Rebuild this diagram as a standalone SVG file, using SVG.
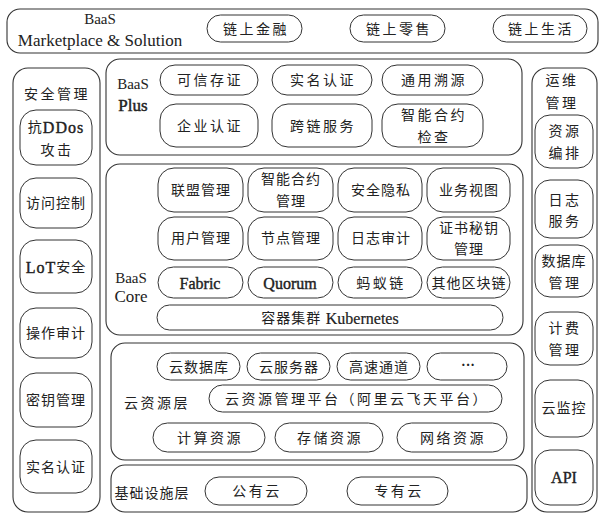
<svg xmlns="http://www.w3.org/2000/svg" width="602" height="515" viewBox="0 0 602 515">
<style>
.box{fill:#fff;stroke:#333;stroke-width:1.1}
.p{fill:#fff;stroke:#333;stroke-width:1}
text{font-family:"Liberation Serif","Noto Sans CJK SC",serif;fill:#222;text-anchor:middle;dominant-baseline:central}
.c{font-size:14px;letter-spacing:2.5px}
.c1{font-size:14px;letter-spacing:1px}
.s{font-size:15px}
.b{font-size:17px;stroke:#222;stroke-width:0.45}
.l{font-size:16px;stroke:#222;stroke-width:0.4}
.lt{font-size:16px;stroke:#222;stroke-width:0.4}
.m{font-size:17px}
</style>
<rect width="602" height="515" fill="#fff"/>

<g id="marketplace">
<rect class="box" x="7" y="9" width="591" height="44" rx="13"/>
<text class="s" x="100" y="19">BaaS</text>
<text class="m" x="100" y="40">Marketplace &amp; Solution</text>
<rect class="p" x="207" y="15" width="95" height="27" rx="13.5"/><text class="c" x="256" y="29">链上金融</text>
<rect class="p" x="350" y="15" width="95" height="27" rx="13.5"/><text class="c" x="399" y="29">链上零售</text>
<rect class="p" x="493" y="15" width="94" height="27" rx="13.5"/><text class="c" x="541" y="29">链上生活</text>
</g>

<g id="security">
<rect class="box" x="13" y="68" width="87" height="444" rx="15"/>
<text class="c" x="57" y="94">安全管理</text>
<rect class="p" x="20" y="110" width="72" height="55" rx="16"/>
<text class="c1" x="56" y="127">抗<tspan class="lt">DDos</tspan></text>
<text class="c" x="57" y="150">攻击</text>
<rect class="p" x="20" y="178" width="72" height="50" rx="16"/><text class="c1" x="56" y="203">访问控制</text>
<rect class="p" x="20" y="240" width="72" height="53" rx="16"/><text class="c1" x="56" y="267"><tspan class="lt">LoT</tspan>安全</text>
<rect class="p" x="20" y="308" width="72" height="50" rx="16"/><text class="c1" x="56" y="333">操作审计</text>
<rect class="p" x="20" y="373" width="72" height="54" rx="16"/><text class="c1" x="56" y="400">密钥管理</text>
<rect class="p" x="20" y="440" width="72" height="53" rx="16"/><text class="c1" x="56" y="467">实名认证</text>
</g>

<g id="baas-plus">
<rect class="box" x="106" y="59" width="416" height="96" rx="14"/>
<text class="s" x="133" y="84">BaaS</text>
<text class="b" x="133" y="105">Plus</text>
<rect class="p" x="160" y="65" width="98" height="30" rx="15"/><text class="c" x="210" y="80">可信存证</text>
<rect class="p" x="272" y="65" width="100" height="30" rx="15"/><text class="c" x="323" y="80">实名认证</text>
<rect class="p" x="382" y="65" width="101" height="30" rx="15"/><text class="c" x="434" y="80">通用溯源</text>
<rect class="p" x="160" y="104" width="98" height="43" rx="16"/><text class="c" x="210" y="126">企业认证</text>
<rect class="p" x="272" y="104" width="100" height="43" rx="16"/><text class="c" x="323" y="126">跨链服务</text>
<rect class="p" x="382" y="104" width="101" height="43" rx="16"/>
<text class="c" x="434" y="115">智能合约</text>
<text class="c" x="434" y="137">检查</text>
</g>

<g id="baas-core">
<rect class="box" x="106" y="164" width="417" height="171" rx="14"/>
<text class="s" x="131" y="278">BaaS</text>
<text class="m" x="131" y="296">Core</text>
<rect class="p" x="158" y="168" width="85" height="44" rx="16"/><text class="c1" x="201" y="190">联盟管理</text>
<rect class="p" x="248" y="168" width="85" height="44" rx="16"/>
<text class="c1" x="291" y="179">智能合约</text><text class="c1" x="291" y="201">管理</text>
<rect class="p" x="338" y="168" width="84" height="44" rx="16"/><text class="c1" x="381" y="190">安全隐私</text>
<rect class="p" x="427" y="168" width="83" height="44" rx="16"/><text class="c1" x="469" y="190">业务视图</text>
<rect class="p" x="158" y="217" width="85" height="43" rx="16"/><text class="c1" x="201" y="238">用户管理</text>
<rect class="p" x="248" y="217" width="85" height="43" rx="16"/><text class="c1" x="291" y="238">节点管理</text>
<rect class="p" x="338" y="217" width="84" height="43" rx="16"/><text class="c1" x="381" y="238">日志审计</text>
<rect class="p" x="427" y="217" width="83" height="43" rx="16"/>
<text class="c1" x="469" y="228">证书秘钥</text><text class="c1" x="469" y="249">管理</text>
<rect class="p" x="158" y="267" width="85" height="31" rx="15.5"/><text class="l" x="200" y="283">Fabric</text>
<rect class="p" x="248" y="267" width="85" height="31" rx="15.5"/><text class="l" x="290" y="283">Quorum</text>
<rect class="p" x="338" y="267" width="84" height="31" rx="15.5"/><text class="c" x="381" y="283">蚂蚁链</text>
<rect class="p" x="427" y="267" width="83" height="31" rx="15.5"/><text class="c1" x="469" y="283" letter-spacing="0.5">其他区块链</text>
<rect class="p" x="157" y="305" width="346" height="25" rx="12.5"/>
<text class="c1" x="330" y="318">容器集群 <tspan font-size="16" letter-spacing="0" stroke="#222" stroke-width="0.2">Kubernetes</tspan></text>
</g>

<g id="cloud-resource">
<rect class="box" x="111" y="343" width="413" height="117" rx="14"/>
<text class="c" x="157" y="403">云资源层</text>
<rect class="p" x="157" y="353" width="83" height="27" rx="13.5"/><text class="c1" x="199" y="367">云数据库</text>
<rect class="p" x="247" y="353" width="83" height="27" rx="13.5"/><text class="c1" x="289" y="367">云服务器</text>
<rect class="p" x="337" y="353" width="83" height="27" rx="13.5"/><text class="c1" x="379" y="367">高速通道</text>
<rect class="p" x="427" y="353" width="80" height="27" rx="13.5"/><text x="468" y="365" font-size="14" font-weight="bold">···</text>
<rect class="p" x="209" y="385" width="293" height="27" rx="13.5"/><text class="c" x="357" y="399">云资源管理平台（阿里云飞天平台）</text>
<rect class="p" x="153" y="423" width="112" height="29" rx="14.5"/><text class="c" x="210" y="438">计算资源</text>
<rect class="p" x="275" y="423" width="108" height="29" rx="14.5"/><text class="c" x="330" y="438">存储资源</text>
<rect class="p" x="397" y="423" width="110" height="29" rx="14.5"/><text class="c" x="453" y="438">网络资源</text>
</g>

<g id="infrastructure">
<rect class="box" x="111" y="465" width="416" height="47" rx="14"/>
<text class="c1" x="152" y="493">基础设施层</text>
<rect class="p" x="205" y="477" width="102" height="28" rx="14"/><text class="c" x="257" y="491">公有云</text>
<rect class="p" x="347" y="477" width="101" height="28" rx="14"/><text class="c" x="399" y="491">专有云</text>
</g>

<g id="ops">
<rect class="box" x="532" y="68" width="65" height="444" rx="15"/>
<text class="c" x="562" y="80">运维</text>
<text class="c" x="562" y="103">管理</text>
<rect class="p" x="535" y="115" width="58" height="53" rx="15"/><text class="c" x="565" y="131">资源</text><text class="c" x="565" y="153">编排</text>
<rect class="p" x="535" y="180" width="58" height="58" rx="15"/><text class="c" x="565" y="200">日志</text><text class="c" x="565" y="221">服务</text>
<rect class="p" x="535" y="245" width="58" height="52" rx="15"/><text class="c1" x="564" y="261">数据库</text><text class="c" x="565" y="283">管理</text>
<rect class="p" x="535" y="312" width="58" height="53" rx="15"/><text class="c" x="565" y="328">计费</text><text class="c" x="565" y="350">管理</text>
<rect class="p" x="535" y="380" width="58" height="57" rx="15"/><text class="c1" x="564" y="408">云监控</text>
<rect class="p" x="535" y="450" width="58" height="55" rx="15"/><text class="l" x="564" y="477">API</text>
</g>

<g id="connectors"/>
</svg>
